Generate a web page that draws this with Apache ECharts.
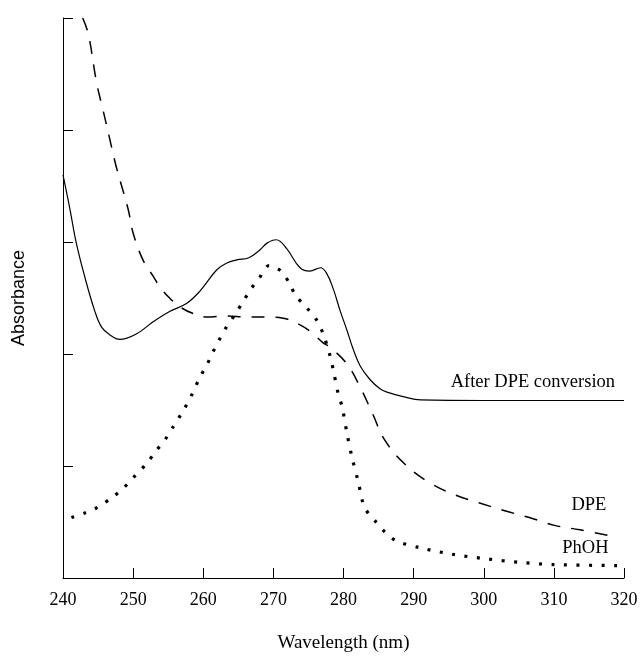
<!DOCTYPE html>
<html>
<head>
<meta charset="utf-8">
<script src="https://cdn.jsdelivr.net/npm/echarts@6/dist/echarts.min.js"></script>
<style>
html,body{margin:0;padding:0;background:#fff;}
#chart{width:641px;height:658px;}
</style>
</head>
<body>
<div id="chart"></div>
<script>
// Wavelength ticks
var xTicks = [240, 250, 260, 270, 280, 290, 300, 310, 320];

// After DPE conversion (solid)
var afterWl  = [240, 241, 241.9, 243.1, 244.5, 245.5, 246.7, 248.1, 250.5, 252.9, 255.2, 257.6, 259.5, 261.9, 263.3, 264.8, 266.5, 268.1, 269.1, 270.4, 271.9, 273.8, 275.2, 276.7, 277.6, 278.6, 279.5, 280.5, 281.4, 282.4, 283.8, 285.2, 286.2, 288.5, 291, 300, 310, 320];
var afterAbs = [3.60, 3.29, 2.99, 2.69, 2.39, 2.24, 2.17, 2.13, 2.18, 2.29, 2.38, 2.45, 2.56, 2.75, 2.81, 2.84, 2.86, 2.93, 2.99, 3.02, 2.94, 2.77, 2.74, 2.77, 2.72, 2.57, 2.39, 2.21, 2.04, 1.89, 1.77, 1.69, 1.66, 1.62, 1.59, 1.585, 1.585, 1.585];

// DPE (dashed)
var dpeWl  = [242.8, 243.6, 244.8, 245.7, 246.7, 247.6, 249.3, 250, 251.4, 252.9, 253.8, 255.2, 256.7, 258.6, 260.5, 263.3, 266.2, 269, 271.4, 273.8, 275.5, 277.1, 278.1, 280.5, 282.4, 284.2, 285.8, 288.7, 292.3, 296, 299.4, 303, 306.5, 310.1, 313.7, 318.1];
var dpeAbs = [5.00, 4.86, 4.42, 4.18, 3.91, 3.67, 3.29, 3.08, 2.84, 2.69, 2.60, 2.50, 2.42, 2.36, 2.33, 2.34, 2.33, 2.33, 2.32, 2.26, 2.19, 2.10, 2.06, 1.91, 1.70, 1.46, 1.24, 1.02, 0.85, 0.74, 0.67, 0.60, 0.54, 0.47, 0.43, 0.375];

// PhOH (dotted)
var phohWl  = [241.2, 243.1, 244.9, 246.8, 248.4, 250.1, 251.9, 253.2, 254.5, 255.7, 257.2, 258.4, 259.5, 260.5, 261.4, 262.4, 263.3, 264.5, 265.7, 266.8, 268, 269.4, 271.1, 272.3, 273.2, 274.8, 276.2, 277.1, 278.1, 278.6, 279.3, 279.8, 280.5, 281.2, 282.1, 283, 284.5, 285.9, 287.6, 290.9, 295.7, 300.5, 305, 310, 320];
var phohAbs = [0.54, 0.58, 0.63, 0.71, 0.79, 0.90, 1.02, 1.13, 1.23, 1.35, 1.50, 1.64, 1.79, 1.90, 2.02, 2.14, 2.24, 2.35, 2.47, 2.58, 2.68, 2.79, 2.74, 2.63, 2.52, 2.41, 2.30, 2.18, 1.98, 1.84, 1.63, 1.53, 1.29, 1.08, 0.86, 0.63, 0.51, 0.41, 0.33, 0.27, 0.21, 0.17, 0.14, 0.12, 0.11];

// Curve labels: [text, wavelength, absorbance]
var curveLabels = [
  ["After DPE conversion", 307.0, 1.75],
  ["DPE", 315.0, 0.65],
  ["PhOH", 314.5, 0.27]
];

function pairs(xs, ys){ return xs.map(function(x,i){ return [x, ys[i]]; }); }

var serif = "Liberation Serif, Times New Roman, serif";
var chart = echarts.init(document.getElementById('chart'));
chart.setOption({
  animation: false,
  backgroundColor: '#fff',
  grid: {left: 63, right: 17, top: 18, bottom: 80, containLabel: false},
  xAxis: {
    type: 'value', min: xTicks[0], max: xTicks[xTicks.length-1], interval: 10,
    name: 'Wavelength (nm)', nameLocation: 'middle', nameGap: 65,
    nameTextStyle: {fontFamily: serif, fontSize: 19, color: '#000', verticalAlign: 'middle'},
    axisLine: {lineStyle: {color: '#000', width: 1}},
    axisTick: {inside: true, length: 10, lineStyle: {color: '#000'}},
    axisLabel: {fontFamily: serif, fontSize: 18, color: '#000', margin: 13},
    splitLine: {show: false}
  },
  yAxis: {
    type: 'value', min: 0, max: 5, interval: 1,
    name: 'Absorbance', nameLocation: 'middle', nameGap: 44, nameRotate: 90,
    nameTextStyle: {fontFamily: 'Liberation Sans, Arial, sans-serif', fontSize: 18, color: '#000', verticalAlign: 'middle'},
    axisLine: {show: true, lineStyle: {color: '#000', width: 1}},
    axisTick: {show: true, inside: true, length: 10, lineStyle: {color: '#000'}},
    axisLabel: {show: false},
    splitLine: {show: false}
  },
  series: [
    {
      name: 'After DPE conversion', type: 'line', showSymbol: false, smooth: 0.4,
      data: pairs(afterWl, afterAbs),
      lineStyle: {color: '#000', width: 1.2, type: 'solid'},
      markPoint: {
        symbol: 'circle', symbolSize: 0,
        label: {show: true, position: 'inside', fontFamily: serif, fontSize: 18.5, color: '#000', formatter: '{b}'},
        data: curveLabels.map(function(l){ return {name: l[0], coord: [l[1], l[2]], value: l[0]}; })
      }
    },
    {
      name: 'DPE', type: 'line', showSymbol: false, smooth: 0.4,
      data: pairs(dpeWl, dpeAbs),
      lineStyle: {color: '#000', width: 1.5, type: [13, 11]}
    },
    {
      name: 'PhOH', type: 'line', showSymbol: false, smooth: 0.3,
      data: pairs(phohWl, phohAbs),
      lineStyle: {color: '#000', width: 3.2, type: [3, 9.5]}
    }
  ]
});
</script>
</body>
</html>
